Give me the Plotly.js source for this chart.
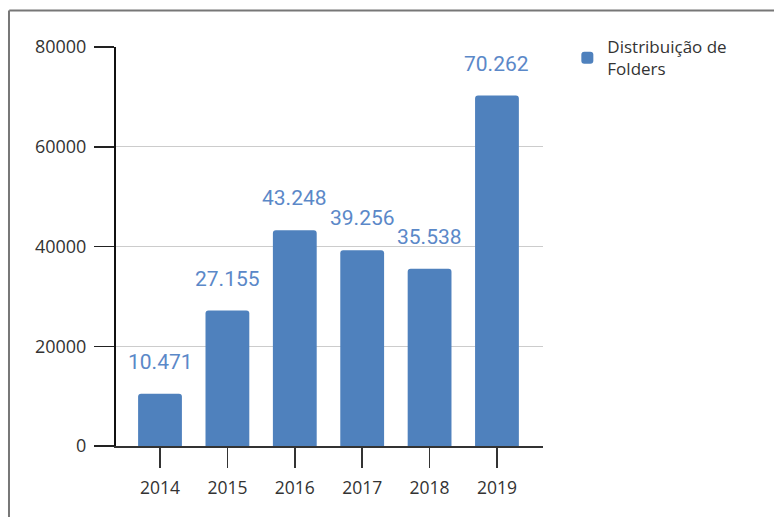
<!DOCTYPE html>
<html>
<head>
<meta charset="utf-8">
<script src="https://cdn.plot.ly/plotly-3.0.1.min.js"></script>
<style>html,body{margin:0;padding:0;background:#fff;}#chart{width:774px;height:517px;}</style>
</head>
<body>
<div id="chart"></div>
<script>
const years = ['2014', '2015', '2016', '2017', '2018', '2019'];
const folders = [10471, 27155, 43248, 39256, 35538, 70262];
const yTicks = [0, 20000, 40000, 60000, 80000];
const seriesName = 'Distribuição de<br>Folders';

function ptBR(v) {
  return String(v).replace(/\B(?=(\d{3})+(?!\d))/g, '.');
}

const barColor = '#4f81bd';
const labelColor = '#5b88c8';

const trace = {
  type: 'bar',
  x: years,
  y: folders,
  name: seriesName,
  width: 0.65,
  marker: { color: barColor, cornerradius: 3, line: { width: 0 } },
  hoverinfo: 'x+y'
};

const annotations = years.map((yr, i) => ({
  x: i, y: folders[i], xref: 'x', yref: 'y',
  text: ptBR(folders[i]),
  showarrow: false,
  xanchor: 'center',
  yanchor: 'bottom',
  yshift: 18,
  font: { family: 'Roboto, sans-serif', size: 21, color: labelColor }
}));

const layout = {
  width: 774, height: 517,
  margin: { l: 116, r: 231, t: 47, b: 71, pad: 0 },
  paper_bgcolor: '#ffffff', plot_bgcolor: '#ffffff',
  showlegend: true,
  legend: {
    x: 1.057, y: 1.045, xanchor: 'left', yanchor: 'top',
    font: { family: 'Open Sans, sans-serif', size: 17, color: '#333333' },
    bgcolor: 'rgba(0,0,0,0)'
  },
  xaxis: {
    type: 'category',
    range: [-0.653, 5.683],
    showline: true, linecolor: '#333333', linewidth: 1.5,
    ticks: 'outside', ticklen: 20, tickcolor: '#333333', tickwidth: 1.5,
    tickfont: { family: 'Open Sans, sans-serif', size: 17.5, color: '#333333' },
    ticklabelstandoff: 5,
    showgrid: false, zeroline: false, fixedrange: true
  },
  yaxis: {
    range: [0, 80000],
    tickvals: yTicks,
    ticktext: yTicks.map(String),
    showline: true, linecolor: '#111111', linewidth: 2,
    ticks: 'outside', ticklen: 20, tickcolor: '#222222', tickwidth: 1.5,
    tickfont: { family: 'Open Sans, sans-serif', size: 18, color: '#333333' },
    ticklabelstandoff: 4,
    showgrid: true, gridcolor: '#cccccc', gridwidth: 1,
    zeroline: false, fixedrange: true
  },
  annotations: annotations,
  shapes: [
    { type: 'line', xref: 'paper', yref: 'paper', x0: -0.250, x1: 1.6, y0: 1.0915, y1: 1.0915,
      line: { color: '#777777', width: 2 } },
    { type: 'line', xref: 'paper', yref: 'paper', x0: -0.2506, x1: -0.2506, y0: 1.0915, y1: -0.2,
      line: { color: '#777777', width: 2 } }
  ]
};

Plotly.newPlot('chart', [trace], layout, { displayModeBar: false, staticPlot: true });
</script>
</body>
</html>
